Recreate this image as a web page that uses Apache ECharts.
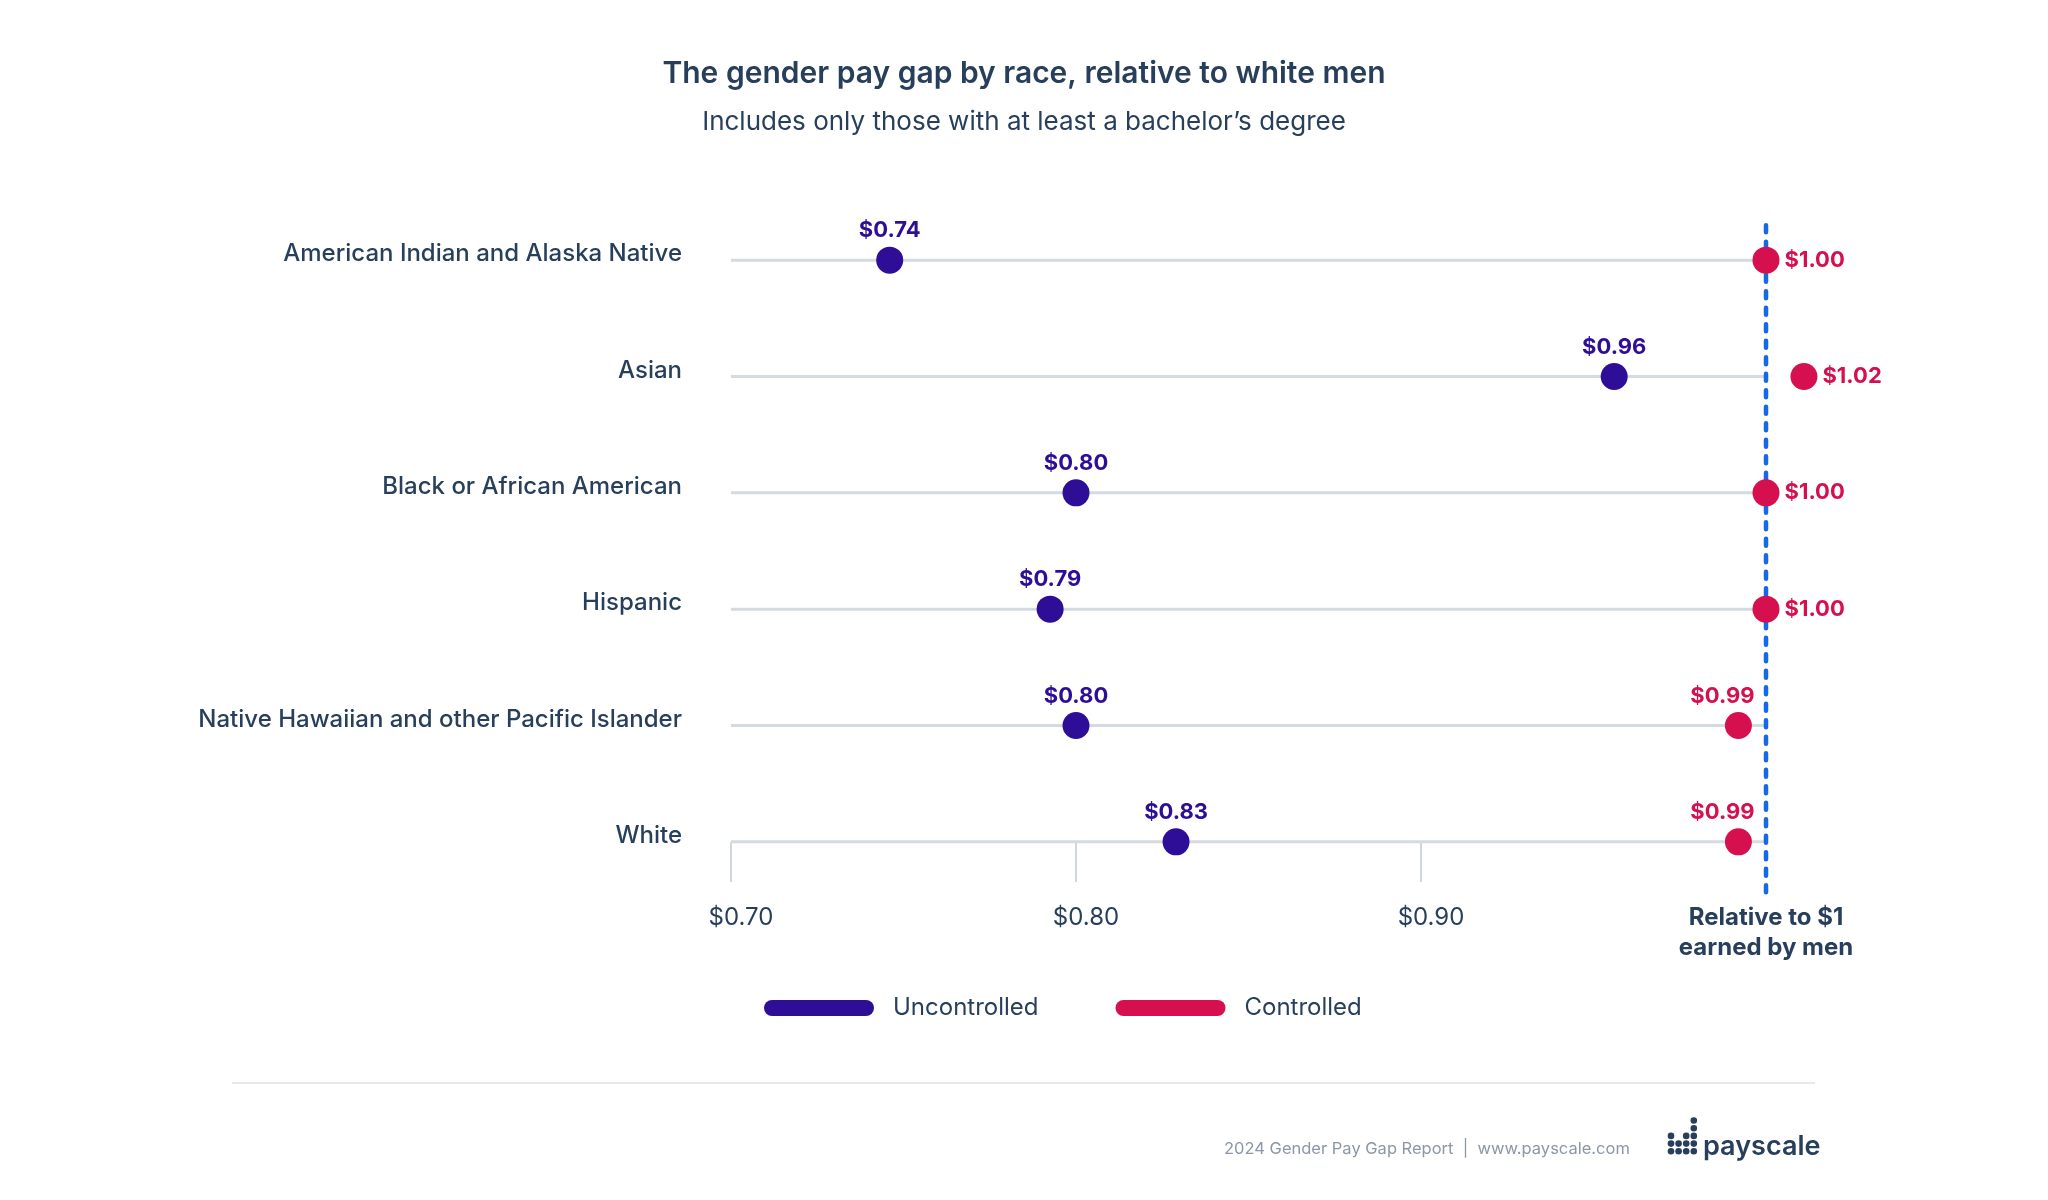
<!DOCTYPE html>
<html>
<head>
<meta charset="utf-8">
<script src="https://cdn.jsdelivr.net/npm/echarts@6/dist/echarts.min.js"></script>
<style>
html,body{margin:0;padding:0;background:#ffffff;}
#chart{width:2048px;height:1200px;}
</style>
</head>
<body>
<div id="chart"></div>
<script>
// ---------- data ----------
const categories = [
  'American Indian and Alaska Native',
  'Asian',
  'Black or African American',
  'Hispanic',
  'Native Hawaiian and other Pacific Islander',
  'White'
];
const uncontrolled = [0.746, 0.956, 0.800, 0.7925, 0.800, 0.829];
const uncontrolledLabels = ['$0.74', '$0.96', '$0.80', '$0.79', '$0.80', '$0.83'];
const controlled = [1.000, 1.011, 1.000, 1.000, 0.992, 0.992];
const controlledLabels = ['$1.00', '$1.02', '$1.00', '$1.00', '$0.99', '$0.99'];
const xTickValues = [0.70, 0.80, 0.90];
const xTickLabels = ['$0.70', '$0.80', '$0.90'];
const referenceValue = 1.00;
const referenceLabel = ['Relative to $1', 'earned by men'];
const seriesNames = ['Uncontrolled', 'Controlled'];

// ---------- styles ----------
const TEXT = '#273f5b';
const PURPLE = '#2f0e97';
const RED = '#d6104e';
const BLUE = '#1669e5';
const TRACK = '#d3dae1';
const FONT = 'Inter, "Noto Sans", sans-serif';

const chart = echarts.init(document.getElementById('chart'), null, {renderer: 'canvas'});

function near(a, b) { return Math.abs(a - b) < 1e-6; }

const uncData = uncontrolled.map((v, i) => [v, i]);
const conData = controlled.map((v, i) => ({
  value: [v, i],
  label: v < referenceValue - 1e-6
    ? {position: 'top', distance: 5, offset: [-16, 0]}
    : {position: 'right', distance: 5}
}));

// logo dots
const logoCols = [3, 2, 3, 5];
const logoGraphics = [];
logoCols.forEach((h, c) => {
  for (let r = 0; r < h; r++) {
    logoGraphics.push({
      type: 'circle',
      shape: {cx: 1671 + c * 7.6, cy: 1151.3 - r * 7.7, r: 3.3},
      style: {fill: TEXT}
    });
  }
});

const option = {
  backgroundColor: '#ffffff',
  animation: false,
  textStyle: {fontFamily: FONT},
  title: [
    {
      text: 'The gender pay gap by race, relative to white men',
      left: 'center', top: 54,
      textStyle: {fontFamily: FONT, fontSize: 30, fontWeight: 600, color: TEXT}
    },
    {
      text: 'Includes only those with at least a bachelor\u2019s degree',
      left: 'center', top: 104,
      textStyle: {fontFamily: FONT, fontSize: 26, fontWeight: 400, color: TEXT}
    }
  ],
  legend: {
    data: seriesNames,
    left: 759, top: 991,
    itemWidth: 110, itemHeight: 16, itemGap: 77,
    icon: 'path://M8,0 H102 A8,8 0 0 1 102,16 H8 A8,8 0 0 1 8,0 Z',
    selectedMode: false,
    textStyle: {fontFamily: FONT, fontSize: 24, color: TEXT, padding: [0, 0, 0, 14]}
  },
  grid: {left: 731, right: 109.5, top: 202, bottom: 300, containLabel: false},
  xAxis: {
    type: 'value',
    min: 0.7, max: 1.05, interval: 0.1,
    offset: -58,
    axisLine: {show: false},
    splitLine: {show: false},
    axisTick: {
      show: true, length: 40, inside: false,
      customValues: xTickValues,
      lineStyle: {color: '#cfd6de', width: 2}
    },
    axisLabel: {
      show: true,
      customValues: xTickValues.concat([referenceValue]),
      margin: 61,
      fontFamily: FONT, fontSize: 24, color: TEXT, lineHeight: 30,
      formatter: function (v) {
        for (let i = 0; i < xTickValues.length; i++) {
          if (near(v, xTickValues[i])) return '{v|' + xTickLabels[i] + '}';
        }
        if (near(v, referenceValue)) return referenceLabel.map(s => '{b|' + s + '}').join('\n');
        return '';
      },
      rich: {
        v: {fontFamily: FONT, fontSize: 24, fontWeight: 400, color: TEXT, lineHeight: 30, padding: [0, 0, 0, 20]},
        b: {fontFamily: FONT, fontSize: 24, fontWeight: 700, color: TEXT, lineHeight: 30}
      }
    }
  },
  yAxis: {
    type: 'category',
    data: categories,
    inverse: true,
    axisLine: {show: false},
    axisTick: {show: false},
    splitLine: {show: false},
    axisLabel: {
      margin: 49,
      fontFamily: FONT, fontSize: 24, fontWeight: 500, color: TEXT,
      verticalAlign: 'bottom', lineHeight: 12
    }
  },
  series: [
    {
      name: 'track',
      type: 'bar',
      data: categories.map(() => referenceValue),
      barWidth: 3,
      itemStyle: {color: TRACK},
      silent: true,
      z: 1
    },
    {
      name: 'reference',
      type: 'custom',
      silent: true,
      z: 2,
      data: [[referenceValue, 0]],
      encode: {x: 0, y: 1},
      renderItem: function (params, api) {
        const first = api.coord([referenceValue, 0]);
        const last = api.coord([referenceValue, categories.length - 1]);
        const band = api.size([0, 1])[1];
        return {
          type: 'line',
          shape: {x1: first[0], y1: first[1] - band * 0.3, x2: last[0], y2: last[1] + band * 0.48},
          style: {stroke: BLUE, lineWidth: 4.5, lineDash: [7, 9.5], lineCap: 'round'}
        };
      }
    },
    {
      name: seriesNames[0],
      type: 'scatter',
      data: uncData,
      symbolSize: 27,
      itemStyle: {color: PURPLE, opacity: 1},
      z: 5,
      label: {
        show: true, position: 'top', distance: 5,
        fontFamily: FONT, fontSize: 22, fontWeight: 700, color: PURPLE,
        formatter: p => uncontrolledLabels[p.dataIndex]
      }
    },
    {
      name: seriesNames[1],
      type: 'scatter',
      data: conData,
      symbolSize: 27,
      itemStyle: {color: RED, opacity: 1},
      z: 5,
      label: {
        show: true,
        fontFamily: FONT, fontSize: 22, fontWeight: 700, color: RED,
        formatter: p => controlledLabels[p.dataIndex]
      }
    }
  ],
  graphic: [
    {
      type: 'line',
      shape: {x1: 232, y1: 1083, x2: 1815, y2: 1083},
      style: {stroke: '#e6eaee', lineWidth: 2}
    },
    {
      type: 'text',
      x: 1224, y: 1149,
      style: {
        text: '2024 Gender Pay Gap Report  |  www.payscale.com',
        fill: '#8b97a6', font: '400 16.5px ' + FONT,
        verticalAlign: 'middle', align: 'left'
      }
    },
    {
      type: 'text',
      x: 1703, y: 1147,
      style: {
        text: 'payscale',
        fill: TEXT, font: '600 27px ' + FONT,
        verticalAlign: 'middle', align: 'left'
      }
    }
  ].concat(logoGraphics)
};

chart.setOption(option);
</script>
</body>
</html>
